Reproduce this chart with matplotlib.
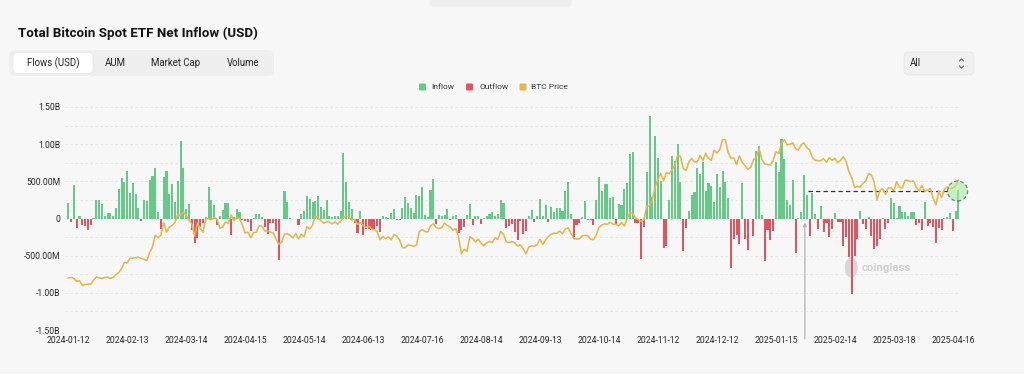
import matplotlib
matplotlib.use("Agg")
import matplotlib.pyplot as plt
import numpy as np
from matplotlib.patches import FancyBboxPatch, Ellipse, Rectangle
from matplotlib.ticker import MultipleLocator

plt.rcParams['font.family'] = ['Roboto', 'DejaVu Sans']

# ---------------- data ----------------
# daily net flows of all US spot BTC ETFs, $M, one value per trading day (2024-01-12 .. 2025-04-21)
flow_2024_01 = [203, -50, 450, -130, 40, -90, -105, -160, -85, 10, 255, 250, 195]
flow_2024_02 = [35, 80, 70, 35, 145, 400, 540, 495, 635, 340, 480, 325, 135, -35, 250, 240, 520, 575, 675, 90]
flow_2024_03 = [-140, 560, 645, 335, 470, 220, 505, 1045, 685, 130, 200, -155, -325, -260, -110, -55, 15, 420, 245, 180]
flow_2024_04 = [-85, 40, 110, 215, 205, -225, 20, 125, 90, -25, -40, -50, -165, 5, 60, 60, 20, -120, -205, -60, -55, -165]
flow_2024_05 = [-560, -10, 375, 220, 5, -10, -5, -85, 65, 100, 300, 260, 220, 235, 305, 150, 110, 250, 30, 20, 35, 35]
flow_2024_06 = [100, 885, 490, 220, 130, -65, -200, 100, -225, -145, -145, -150, -140, -105, -175, 30, 20, 10, 70]
flow_2024_07 = [130, -15, -20, 145, 295, 215, 145, 80, 310, 300, 420, 50, 15, 385, 530, -78, 45, 30, 50, 125, -18, 30]
flow_2024_08 = [45, -190, -150, -120, 45, 195, -90, 30, 40, -80, 12, 33, 60, 88, 40, 65, 252, 202, -127, -105, -72, -175]
flow_2024_09 = [-288, -37, -211, -170, 29, 117, -43, 39, 263, 40, 187, -53, 158, 93, 136, 137, 106, 366, 494, 61]
flow_2024_10 = [-243, -92, -54, 25, 235, -19, -15, -81, 254, 556, 371, 458, 470, 274, 294, -79, 192, 188, 402, 479, 870, 893, -55]
flow_2024_11 = [-60, -541, -117, 622, 1376, 295, 1114, 817, 510, -401, -371, 255, 837, 773, 1000, 490, -438, -122, 105, 320]
flow_2024_12 = [353, 676, 600, 766, 375, 479, 438, 223, 597, 428, 637, 493, 275, -672, -277, -226, -338, 475, -275, -420, -5]
flow_2025_01 = [-240, 908, 978, 52, -568, -149, -284, -170, 755, 626, 1072, 802, 248, 188, 520, -458, 10, 90, 588, 318]
flow_2025_02 = [-235, 340, 65, -140, 170, -185, -57, -250, -140, 70, -50, -50, -365, -250, -520, -1010, -500, -275, 95]
flow_2025_03 = [-74, -143, 20, -230, -410, -370, -270, 13, -135, -60, 274, 209, 12, 165, 83, 84, 27, 90, 89, -93, -61]
flow_2025_04 = [-158, 220, -100, -65, -109, -326, -127, -150, 2, 15, 76, -171, 107, 381]

# BTC price (k USD) on the same days
price_2024_01 = [42.8, 43.1, 42.7, 41.3, 41.6, 39.5, 39.8, 40.1, 40.0, 41.8, 43.3, 42.9, 42.6]
price_2024_02 = [43.1, 43.2, 42.6, 43.1, 44.3, 45.3, 47.1, 50.0, 49.7, 51.8, 52.0, 52.1, 52.3, 51.8, 51.3, 50.7, 54.5, 57.0, 62.4, 61.2]
price_2024_03 = [62.4, 68.3, 63.8, 66.1, 66.9, 68.3, 72.1, 71.5, 73.1, 71.4, 69.4, 67.6, 61.9, 67.9, 65.5, 63.8, 69.9, 69.9, 69.5, 70.7]
price_2024_04 = [69.7, 65.5, 66.0, 68.5, 67.8, 71.6, 69.1, 70.6, 70.0, 67.1, 63.4, 63.8, 61.3, 63.5, 63.8, 66.8, 66.4, 64.3, 64.5, 63.8, 63.4, 60.6]
price_2024_05 = [58.3, 59.1, 62.9, 63.1, 62.3, 61.2, 63.1, 60.8, 62.9, 61.6, 66.3, 65.2, 67.0, 71.4, 70.1, 69.1, 67.9, 68.5, 68.4, 67.6, 68.4, 67.5]
price_2024_06 = [68.8, 70.6, 71.1, 70.8, 69.3, 69.6, 67.3, 68.2, 66.8, 66.0, 66.5, 65.2, 64.9, 64.1, 60.3, 61.8, 60.9, 61.6, 60.3]
price_2024_07 = [62.7, 62.0, 60.2, 56.7, 56.7, 58.0, 57.7, 57.3, 57.9, 64.1, 65.0, 64.1, 63.9, 66.7, 67.6, 65.9, 65.4, 65.8, 68.0, 66.8, 66.2, 64.6]
price_2024_08 = [65.4, 61.5, 54.0, 56.0, 55.0, 61.7, 60.9, 59.3, 60.6, 58.7, 57.6, 58.9, 59.5, 59.0, 61.2, 60.4, 64.1, 62.8, 59.4, 59.0, 59.4, 59.0]
price_2024_09 = [57.5, 58.0, 56.2, 53.9, 57.0, 57.6, 57.3, 58.1, 60.5, 58.2, 60.3, 61.8, 62.9, 63.3, 63.3, 64.3, 63.1, 65.2, 65.8, 63.3]
price_2024_10 = [60.8, 60.6, 60.7, 62.1, 62.3, 62.2, 60.6, 60.3, 62.4, 66.0, 67.0, 67.6, 67.4, 68.4, 67.4, 67.4, 66.7, 68.2, 66.6, 69.9, 72.7, 72.3, 70.2]
price_2024_11 = [69.5, 68.7, 69.4, 75.6, 75.9, 78.5, 84.5, 88.0, 90.5, 87.3, 91.0, 90.5, 92.3, 94.3, 98.9, 98.4, 93.0, 91.9, 95.9, 97.5]
price_2024_12 = [95.9, 96.0, 98.8, 96.6, 99.9, 97.4, 96.7, 101.2, 100.0, 101.5, 106.1, 106.1, 100.2, 97.5, 97.8, 94.7, 98.7, 95.8, 94.2, 92.6, 93.4]
price_2025_01 = [96.9, 98.1, 102.1, 96.9, 95.0, 94.7, 94.5, 96.5, 100.5, 99.8, 104.5, 106.1, 103.7, 104.0, 104.7, 102.1, 101.3, 103.7, 104.7, 102.4]
price_2025_02 = [101.4, 97.9, 96.6, 96.5, 96.5, 97.4, 95.8, 97.9, 96.6, 97.5, 95.6, 96.6, 98.3, 96.1, 91.4, 88.7, 84.3, 84.7, 84.4]
price_2025_03 = [86.1, 87.2, 90.6, 89.9, 86.7, 78.5, 82.9, 83.7, 81.1, 84.0, 84.0, 82.7, 86.9, 84.2, 84.0, 87.5, 87.4, 86.9, 87.2, 84.4, 82.5]
price_2025_04 = [85.2, 82.5, 83.1, 83.8, 79.2, 76.3, 82.6, 79.6, 83.4, 84.5, 83.7, 84.0, 84.9, 87.5]

tick_labels = ["2024-01-12", "2024-02-13", "2024-03-14", "2024-04-15", "2024-05-14",
               "2024-06-13", "2024-07-16", "2024-08-14", "2024-09-13", "2024-10-14",
               "2024-11-12", "2024-12-12", "2025-01-15", "2025-02-14", "2025-03-18",
               "2025-04-16"]
tick_step = 21  # trading days between labels

y_ticks = [-1.5, -1.0, -0.5, 0, 0.5, 1.0, 1.5]
y_labels = ["-1.50B", "-1.00B", "-500.00M", "0", "500.00M", "1.00B", "1.50B"]

legend_names = ["Inflow", "Outflow", "BTC Price"]

flows = np.array(flow_2024_01 + flow_2024_02 + flow_2024_03 + flow_2024_04 + flow_2024_05 +
                 flow_2024_06 + flow_2024_07 + flow_2024_08 + flow_2024_09 + flow_2024_10 +
                 flow_2024_11 + flow_2024_12 + flow_2025_01 + flow_2025_02 + flow_2025_03 +
                 flow_2025_04, dtype=float) / 1000.0  # -> billions
price = np.array(price_2024_01 + price_2024_02 + price_2024_03 + price_2024_04 + price_2024_05 +
                 price_2024_06 + price_2024_07 + price_2024_08 + price_2024_09 + price_2024_10 +
                 price_2024_11 + price_2024_12 + price_2025_01 + price_2025_02 + price_2025_03 +
                 price_2025_04, dtype=float)
idx = np.arange(len(flows))

# ---------------- style ----------------
BG = "#f7f7f8"
GREEN = "#66c988"
RED = "#e2525f"
GOLD = "#e3b64e"
TXT = "#262626"

W, H = 1024, 391
fig = plt.figure(figsize=(W / 100, H / 100), dpi=100, facecolor=BG)

# UI chrome layer in pixel coordinates
ui = fig.add_axes([0, 0, 1, 1], zorder=-5)
ui.set_xlim(0, W)
ui.set_ylim(H, 0)
ui.axis("off")
ui.add_patch(Rectangle((0, 374), W, 20, color="white", lw=0))
ui.add_patch(FancyBboxPatch((430, -8), 142, 15, boxstyle="round,pad=0,rounding_size=4",
                            fc="#eeeeef", ec="none"))
ui.text(18, 33, "Total Bitcoin Spot ETF Net Inflow (USD)", fontsize=9.6, fontweight="bold",
        color="#141414", va="center", ha="left")
# tab group
ui.add_patch(FancyBboxPatch((9, 50), 265, 26, boxstyle="round,pad=0,rounding_size=6",
                            fc="#eeeeef", ec="none"))
ui.add_patch(FancyBboxPatch((13, 52.5), 80, 21, boxstyle="round,pad=0,rounding_size=5",
                            fc="white", ec="#e6e6e6", lw=0.5))
for lbl, cx in [("Flows (USD)", 53), ("AUM", 115), ("Market Cap", 176), ("Volume", 243)]:
    ui.text(cx, 63, lbl, fontsize=6.9, color="#222222", ha="center", va="center")
# "All" selector
ui.add_patch(FancyBboxPatch((904, 52), 70, 23, boxstyle="round,pad=0,rounding_size=5",
                            fc="#f0f0f1", ec="#e4e4e4", lw=0.5))
ui.text(910, 63.5, "All", fontsize=6.9, color="#222222", ha="left", va="center")
ui.plot([959.5, 961.5, 963.5], [61, 58.8, 61], color="#555555", lw=0.7)
ui.plot([959.5, 961.5, 963.5], [66, 68.2, 66], color="#555555", lw=0.7)
# legend
leg_items = [(419, 431, GREEN), (466, 479, RED), (519.5, 531, GOLD)]
for (sx, tx, col), name in zip(leg_items, legend_names):
    ui.add_patch(FancyBboxPatch((sx, 83.5), 7, 7, boxstyle="round,pad=0,rounding_size=1.2",
                                fc=col, ec="none"))
    ui.text(tx, 87.2, name, fontsize=6.0, color="#333333", ha="left", va="center")

# main chart
L, R, T, B = 65, 960, 107, 330
ax = fig.add_axes([L / W, (H - B) / H, (R - L) / W, (B - T) / H], zorder=1)
ax.patch.set_visible(False)
n = len(flows)
ax.set_xlim(-1.15, n - 0.45)
ax.set_ylim(-1.5, 1.5)
colors = [GREEN if v >= 0 else RED for v in flows]
ax.bar(idx, flows, width=0.74, color=colors, linewidth=0, zorder=2)

ax.set_yticks(y_ticks)
ax.set_yticklabels(y_labels)
ax.yaxis.set_minor_locator(MultipleLocator(0.25))
ax.grid(axis="y", which="both", linestyle=(0, (3, 3)), color="#e3e3e5", lw=0.6, zorder=0)
ax.set_axisbelow(True)
ax.set_xticks(np.arange(len(tick_labels)) * tick_step)
ax.set_xticklabels(tick_labels)
ax.tick_params(axis="both", which="both", length=0, labelsize=6.2, colors=TXT)
ax.tick_params(axis="y", pad=3)
ax.tick_params(axis="x", pad=4)
for s in ax.spines.values():
    s.set_visible(False)

# BTC price on hidden right axis
ax2 = ax.twinx()
P_LO, P_HI = 19.04, 121.04
ax2.set_ylim(P_LO, P_HI)
ax2.plot(idx, price, color=GOLD, lw=1.15, zorder=3, solid_joinstyle="round")
ax2.axis("off")

# annotations drawn on top of the chart
ax.annotate("", xy=(262.3, -0.055), xytext=(262.3, -1.62), annotation_clip=False,
            arrowprops=dict(arrowstyle="-|>", color="#b5b5b5", lw=0.9, mutation_scale=5,
                            shrinkA=0, shrinkB=0), zorder=6)
lvl = 0.37
ax.plot([263.4, 313.5], [lvl, lvl], color="#333333", lw=0.9, dashes=(3.5, 2.5), zorder=6,
        clip_on=False)
ax2.add_patch(Ellipse((316.7, P_LO + (lvl + 1.5) / 3 * (P_HI - P_LO)), width=20 / 2.808,
                      height=20 / 74.3 / 3 * (P_HI - P_LO), facecolor="#a8eba2", alpha=0.6,
                      edgecolor="#333333", lw=0.9, linestyle=(0, (3, 2)), zorder=7,
                      clip_on=False))

# watermark
ax.add_patch(Ellipse((278.8, -0.66), width=4.6, height=0.27, facecolor="#d6d6d6",
                     edgecolor="none", zorder=1))
ax.text(282.6, -0.67, "coinglass", fontsize=8.2, fontweight="bold", color="#cfcfcf",
        ha="left", va="center", zorder=1)

fig.savefig("out.png", dpi=100, facecolor=BG)
